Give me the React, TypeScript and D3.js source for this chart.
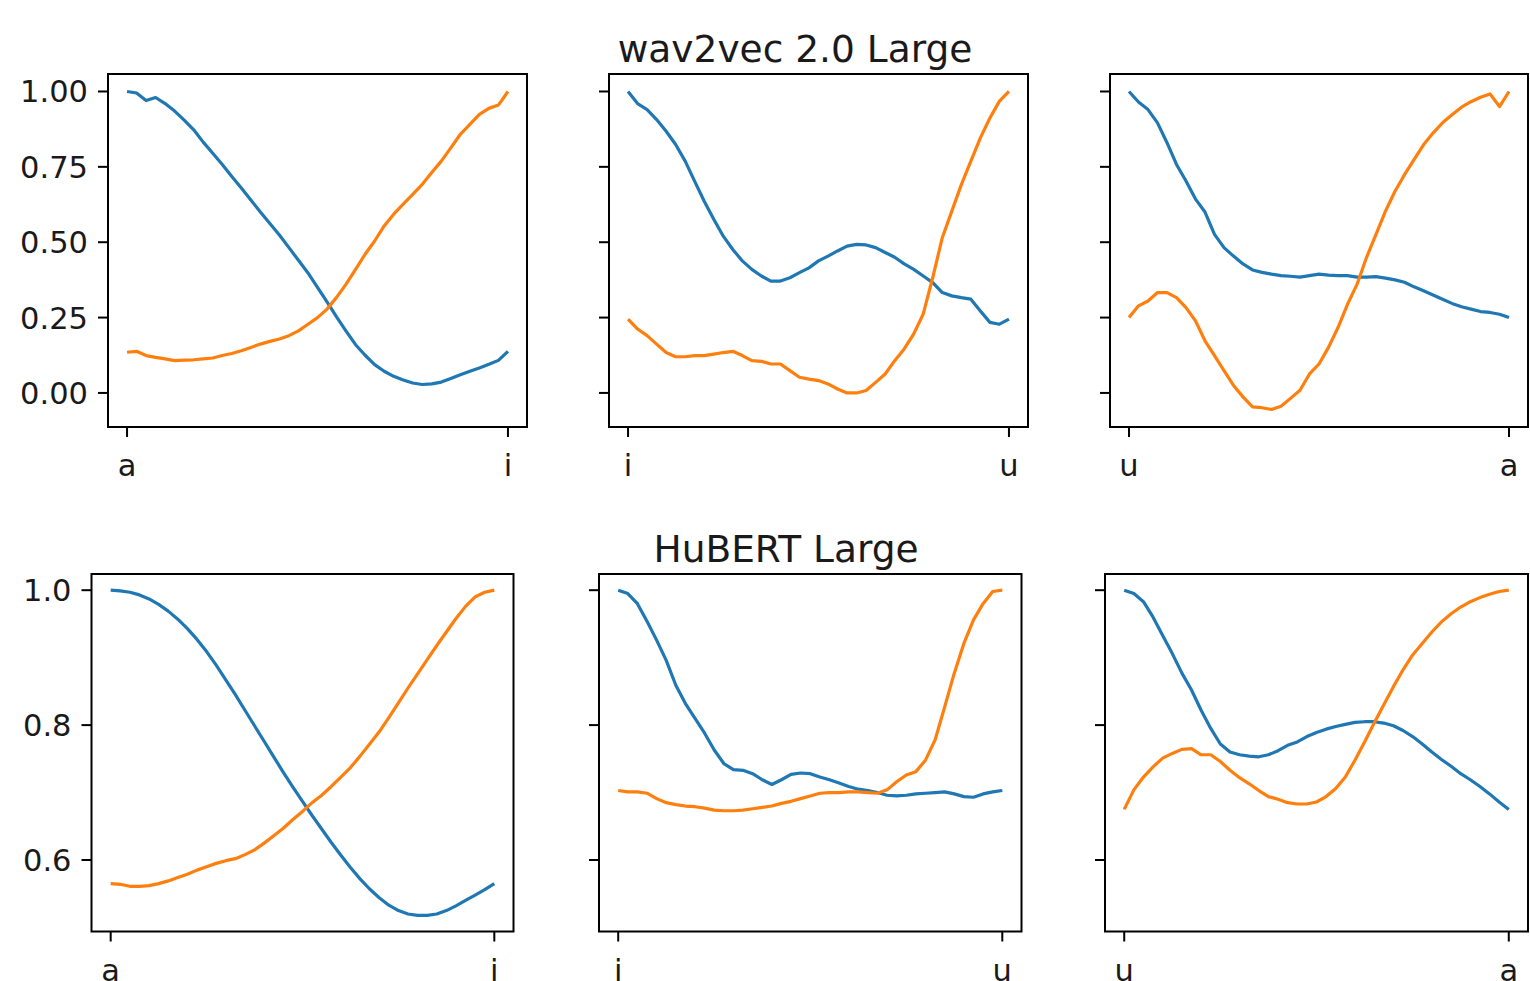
import * as d3 from 'd3'

// x positions of the samples along each transition (0 = first vowel, 1 = second vowel)
const steps = d3.range(41).map((i) => i / 40)

// wav2vec 2.0 Large
const w2vAI_a = [1.0, 0.995, 0.97, 0.98, 0.96, 0.935, 0.905, 0.873, 0.832, 0.795, 0.758, 0.718, 0.68, 0.64, 0.6, 0.562, 0.524, 0.482, 0.44, 0.398, 0.35, 0.302, 0.252, 0.205, 0.16, 0.125, 0.094, 0.072, 0.055, 0.043, 0.033, 0.028, 0.03, 0.036, 0.048, 0.06, 0.072, 0.083, 0.095, 0.108, 0.138]
const w2vAI_i = [0.135, 0.138, 0.124, 0.118, 0.113, 0.107, 0.109, 0.11, 0.113, 0.116, 0.124, 0.131, 0.14, 0.151, 0.162, 0.171, 0.179, 0.19, 0.206, 0.228, 0.25, 0.278, 0.317, 0.361, 0.41, 0.46, 0.504, 0.554, 0.593, 0.626, 0.659, 0.692, 0.731, 0.769, 0.813, 0.858, 0.891, 0.924, 0.944, 0.955, 1.0]
const w2vIU_i = [1.0, 0.96, 0.94, 0.907, 0.868, 0.824, 0.769, 0.702, 0.636, 0.576, 0.52, 0.476, 0.438, 0.41, 0.388, 0.371, 0.371, 0.382, 0.399, 0.415, 0.438, 0.454, 0.471, 0.487, 0.493, 0.491, 0.482, 0.466, 0.45, 0.428, 0.41, 0.388, 0.366, 0.333, 0.322, 0.316, 0.311, 0.272, 0.234, 0.228, 0.245]
const w2vIU_u = [0.245, 0.212, 0.19, 0.162, 0.134, 0.12, 0.12, 0.124, 0.124, 0.129, 0.134, 0.138, 0.124, 0.107, 0.105, 0.096, 0.096, 0.074, 0.052, 0.046, 0.041, 0.03, 0.013, 0.0, 0.0, 0.008, 0.035, 0.063, 0.107, 0.146, 0.196, 0.262, 0.383, 0.515, 0.603, 0.691, 0.769, 0.846, 0.912, 0.968, 1.0]
const w2vUA_u = [1.0, 0.965, 0.94, 0.896, 0.83, 0.758, 0.703, 0.643, 0.6, 0.526, 0.482, 0.454, 0.428, 0.408, 0.4, 0.394, 0.389, 0.387, 0.384, 0.389, 0.394, 0.391, 0.389, 0.389, 0.384, 0.384, 0.386, 0.381, 0.375, 0.367, 0.352, 0.339, 0.325, 0.311, 0.297, 0.286, 0.278, 0.27, 0.267, 0.261, 0.25]
const w2vUA_a = [0.25, 0.289, 0.305, 0.333, 0.333, 0.316, 0.283, 0.239, 0.173, 0.124, 0.074, 0.025, -0.013, -0.046, -0.049, -0.055, -0.044, -0.018, 0.009, 0.063, 0.096, 0.151, 0.217, 0.294, 0.36, 0.449, 0.526, 0.603, 0.669, 0.724, 0.774, 0.823, 0.862, 0.896, 0.923, 0.948, 0.966, 0.981, 0.992, 0.95, 1.0]

// HuBERT Large
const hubAI_a = [1.0, 0.999, 0.997, 0.993, 0.987, 0.979, 0.969, 0.957, 0.943, 0.927, 0.909, 0.889, 0.867, 0.845, 0.822, 0.799, 0.776, 0.753, 0.73, 0.708, 0.687, 0.666, 0.646, 0.626, 0.607, 0.589, 0.572, 0.557, 0.544, 0.533, 0.525, 0.52, 0.518, 0.518, 0.52, 0.525, 0.532, 0.54, 0.548, 0.556, 0.565]
const hubAI_i = [0.565, 0.564, 0.561, 0.561, 0.562, 0.565, 0.569, 0.574, 0.579, 0.585, 0.59, 0.595, 0.599, 0.602, 0.608, 0.615, 0.625, 0.636, 0.647, 0.66, 0.672, 0.685, 0.696, 0.709, 0.723, 0.737, 0.754, 0.772, 0.79, 0.811, 0.833, 0.855, 0.876, 0.897, 0.918, 0.938, 0.958, 0.976, 0.99, 0.997, 1.0]
const hubIU_i = [1.0, 0.995, 0.98, 0.954, 0.926, 0.896, 0.859, 0.832, 0.81, 0.788, 0.763, 0.743, 0.734, 0.733, 0.728, 0.719, 0.712, 0.719, 0.727, 0.729, 0.728, 0.723, 0.719, 0.714, 0.709, 0.705, 0.703, 0.7, 0.696, 0.695, 0.696, 0.698, 0.699, 0.7, 0.701, 0.698, 0.694, 0.693, 0.698, 0.701, 0.703]
const hubIU_u = [0.703, 0.701, 0.701, 0.699, 0.691, 0.685, 0.682, 0.68, 0.679, 0.677, 0.674, 0.673, 0.673, 0.674, 0.676, 0.678, 0.68, 0.684, 0.687, 0.691, 0.695, 0.699, 0.7, 0.7, 0.701, 0.701, 0.7, 0.699, 0.704, 0.716, 0.726, 0.731, 0.748, 0.778, 0.827, 0.877, 0.921, 0.956, 0.98, 0.998, 1.0]
const hubUA_u = [1.0, 0.995, 0.983, 0.96, 0.933, 0.906, 0.877, 0.852, 0.822, 0.795, 0.772, 0.76, 0.756, 0.754, 0.753, 0.756, 0.762, 0.77, 0.775, 0.783, 0.789, 0.794, 0.798, 0.801, 0.804, 0.805, 0.805, 0.803, 0.799, 0.792, 0.783, 0.772, 0.76, 0.749, 0.739, 0.728, 0.719, 0.709, 0.698, 0.686, 0.675]
const hubUA_a = [0.675, 0.704, 0.723, 0.738, 0.751, 0.758, 0.764, 0.765, 0.756, 0.756, 0.746, 0.733, 0.722, 0.713, 0.703, 0.694, 0.69, 0.685, 0.683, 0.683, 0.686, 0.694, 0.706, 0.723, 0.748, 0.775, 0.803, 0.83, 0.857, 0.882, 0.904, 0.921, 0.938, 0.953, 0.965, 0.975, 0.983, 0.989, 0.994, 0.998, 1.0]

const titles = ['wav2vec 2.0 Large', 'HuBERT Large']
const topTicks = [0, 0.25, 0.5, 0.75, 1.0]
const bottomTicks = [0.6, 0.8, 1.0]

const rows = [
  {
    title: titles[0], top: 74, bottom: 427, yDomain: [-0.113, 1.058], ticks: topTicks, fmt: d3.format('.2f'),
    titleX: 795, titleY: 62,
    panels: [
      { left: 108, right: 527, labels: ['a', 'i'], blue: w2vAI_a, orange: w2vAI_i },
      { left: 609, right: 1028, labels: ['i', 'u'], blue: w2vIU_i, orange: w2vIU_u },
      { left: 1110, right: 1528, labels: ['u', 'a'], blue: w2vUA_u, orange: w2vUA_a },
    ],
  },
  {
    title: titles[1], top: 574, bottom: 931.5, yDomain: [0.494, 1.024], ticks: bottomTicks, fmt: d3.format('.1f'),
    titleX: 786, titleY: 562,
    panels: [
      { left: 91.5, right: 513.5, labels: ['a', 'i'], blue: hubAI_a, orange: hubAI_i },
      { left: 599, right: 1021.5, labels: ['i', 'u'], blue: hubIU_i, orange: hubIU_u },
      { left: 1105, right: 1528, labels: ['u', 'a'], blue: hubUA_u, orange: hubUA_a },
    ],
  },
]

const font = 'DejaVu Sans, sans-serif'
const tickFont = 30.5
const tickLen = 10
const tickPad = 10

export default function App() {
  return (
    <svg width={1530} height={981} style={{ position: 'absolute', left: 0, top: 0, background: '#fff' }} fontFamily={font}>
      {rows.map((row, ri) => (
        <g key={ri}>
          <text x={row.titleX} y={row.titleY} textAnchor="middle" fontSize={37.5} fill="#1a1a1a">{row.title}</text>
          {row.panels.map((p, pi) => {
            const x = d3.scaleLinear().domain([-0.05, 1.05]).range([p.left, p.right])
            const y = d3.scaleLinear().domain(row.yDomain).range([row.bottom, row.top])
            const line = d3.line<number>().x((_, i) => x(steps[i])).y((d) => y(d))
            return (
              <g key={pi}>
                <defs>
                  <clipPath id={`clip-${ri}-${pi}`}>
                    <rect x={p.left} y={row.top} width={p.right - p.left} height={row.bottom - row.top} />
                  </clipPath>
                </defs>
                <g clipPath={`url(#clip-${ri}-${pi})`}>
                  <path d={line(p.blue) || ''} fill="none" stroke="#1f77b4" strokeWidth={3.2} strokeLinejoin="round" />
                  <path d={line(p.orange) || ''} fill="none" stroke="#ff7f0e" strokeWidth={3.2} strokeLinejoin="round" />
                </g>
                <rect x={p.left} y={row.top} width={p.right - p.left} height={row.bottom - row.top} fill="none" stroke="#000" strokeWidth={2} />
                {row.ticks.map((t) => (
                  <g key={t}>
                    <line x1={p.left - tickLen} x2={p.left} y1={y(t)} y2={y(t)} stroke="#000" strokeWidth={2} />
                    {pi === 0 && (
                      <text x={p.left - tickLen - tickPad} y={y(t) + tickFont * 0.36} textAnchor="end" fontSize={tickFont} fill="#1a1a1a">
                        {row.fmt(t)}
                      </text>
                    )}
                  </g>
                ))}
                {[0, 1].map((t, ti) => (
                  <g key={ti}>
                    <line x1={x(t)} x2={x(t)} y1={row.bottom} y2={row.bottom + tickLen} stroke="#000" strokeWidth={2} />
                    <text x={x(t)} y={row.bottom + 49} textAnchor="middle" fontSize={tickFont} fill="#1a1a1a">{p.labels[ti]}</text>
                  </g>
                ))}
              </g>
            )
          })}
        </g>
      ))}
    </svg>
  )
}
